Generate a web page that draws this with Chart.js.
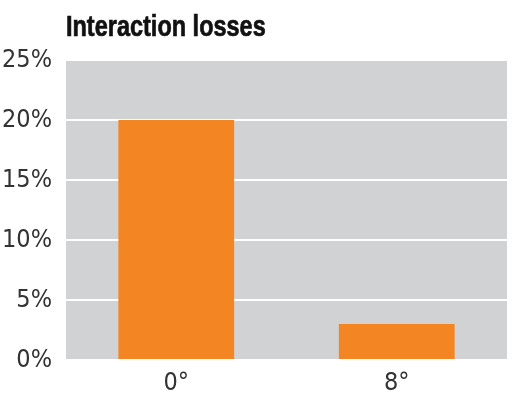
<!DOCTYPE html>
<html>
<head>
<meta charset="utf-8">
<script src="https://cdn.jsdelivr.net/npm/chart.js@4"></script>
<style>
  body { margin: 0; background: #fff; }
  #wrap { position: relative; width: 514px; height: 395px; }
  h1 {
    position: absolute; left: 66px; top: 12px; margin: 0;
    font: bold 29px/28px "Liberation Sans", sans-serif;
    color: #111; white-space: nowrap;
    -webkit-text-stroke: 0.7px #111;
    transform: scaleX(0.81); transform-origin: left top;
  }
  canvas { position: absolute; left: 0; top: 0; }
</style>
</head>
<body>
<div id="wrap">
  <canvas id="chart" width="514" height="395"></canvas>
  <h1>Interaction losses</h1>
</div>
<script>
const categories = ['0°', '8°'];
const losses = [20, 3];
const yTicks = [0, 5, 10, 15, 20, 25];

const plotBackground = {
    id: 'plotBackground',
    beforeDraw(chart) {
        const { ctx, chartArea } = chart;
        ctx.save();
        ctx.fillStyle = '#d1d2d4';
        ctx.fillRect(chartArea.left, chartArea.top, chartArea.right - chartArea.left, chartArea.bottom - chartArea.top);
        ctx.restore();
    }
};

const font = { family: '"DejaVu Sans Condensed", sans-serif', size: 25 };

new Chart(document.getElementById('chart'), {
    type: 'bar',
    data: {
        labels: categories,
        datasets: [{
            data: losses,
            backgroundColor: '#f48523',
            categoryPercentage: 1,
            barPercentage: 0.525
        }]
    },
    options: {
        responsive: false,
        animation: false,
        layout: { padding: { top: 60, right: 7, left: 0, bottom: 0 } },
        plugins: { legend: { display: false }, tooltip: { enabled: false } },
        scales: {
            x: {
                grid: { display: false },
                border: { color: '#ffffff', width: 2 },
                ticks: { color: '#333', font, padding: 0 },
                afterFit(axis) { axis.height = 35; }
            },
            y: {
                min: 0,
                max: 25,
                afterBuildTicks(axis) { axis.ticks = yTicks.map(v => ({ value: v })); },
                grid: { color: '#ffffff', lineWidth: 2, drawTicks: false },
                border: { display: false },
                ticks: { color: '#333', font, padding: 14, callback: v => v + '%' },
                afterFit(axis) { axis.width = 66; }
            }
        }
    },
    plugins: [plotBackground]
});
</script>
</body>
</html>
